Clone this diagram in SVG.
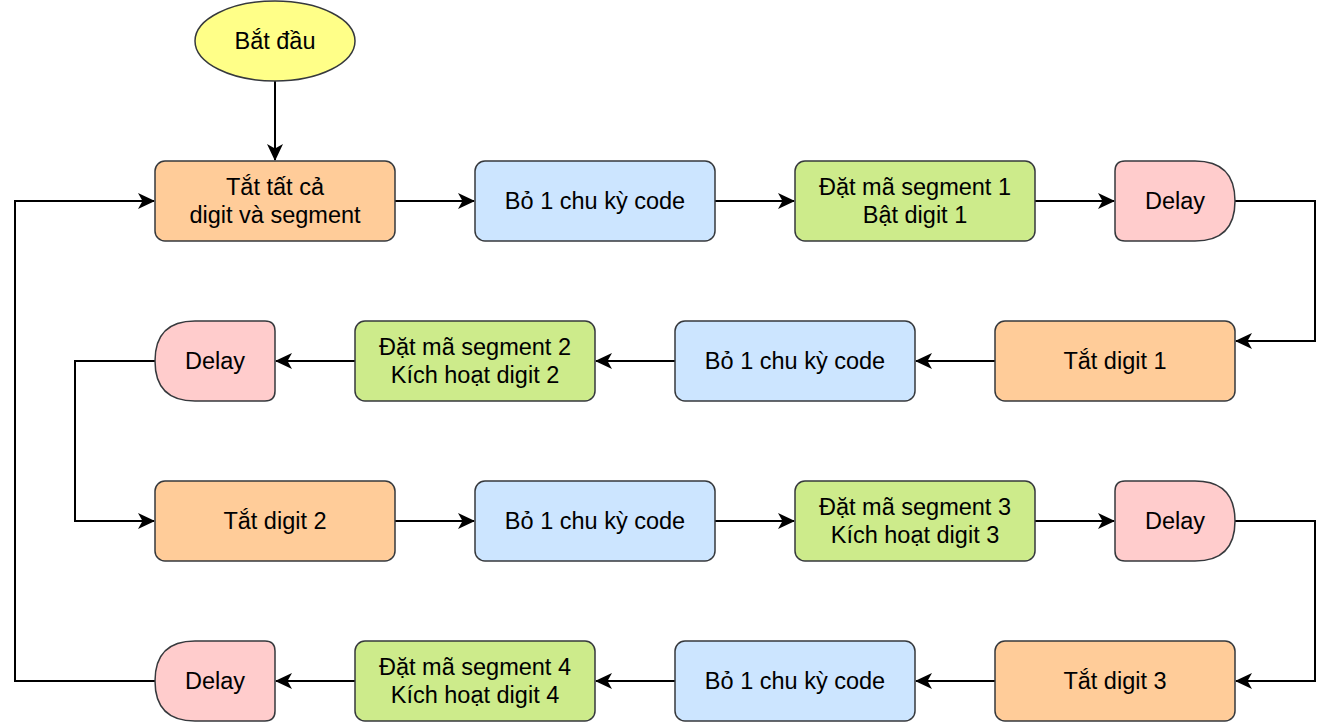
<svg xmlns="http://www.w3.org/2000/svg" width="1332" height="722" viewBox="0 0 1332 722">
<style>
.n{stroke:#36393d;stroke-width:1.5}
.or{fill:#ffcc99}.bl{fill:#cce5ff}.gr{fill:#cdeb8b}.pk{fill:#ffcccc}.ye{fill:#ffff88}
text{font-family:"Liberation Sans",Arial,sans-serif;font-size:23.5px;fill:#000;text-anchor:middle;dominant-baseline:central}
.c{fill:none;stroke:#000;stroke-width:2;marker-end:url(#arr)}
</style>
<defs>
<marker id="arr" viewBox="0 0 17 16" markerWidth="17" markerHeight="16" markerUnits="userSpaceOnUse" refX="16" refY="8" orient="auto">
<path d="M0,0 L17,8 L0,16 L4.5,8 Z" fill="#000"/>
</marker>
</defs>
<rect width="1332" height="722" fill="#fff"/>
<g id="connectors">
<path class="c" d="M275,81 V160"/>
<path class="c" d="M395,201 H474"/>
<path class="c" d="M715,201 H794"/>
<path class="c" d="M1035,201 H1114"/>
<path class="c" d="M1235,201 H1315 V341 H1236"/>
<path class="c" d="M995,361 H916"/>
<path class="c" d="M675,361 H596"/>
<path class="c" d="M355,361 H276"/>
<path class="c" d="M155,361 H75 V521 H154"/>
<path class="c" d="M395,521 H474"/>
<path class="c" d="M715,521 H794"/>
<path class="c" d="M1035,521 H1114"/>
<path class="c" d="M1235,521 H1315 V681 H1236"/>
<path class="c" d="M995,681 H916"/>
<path class="c" d="M675,681 H596"/>
<path class="c" d="M355,681 H276"/>
<path class="c" d="M155,681 H15 V201 H154"/>
</g>
<g id="start"><ellipse class="n ye" cx="275" cy="41" rx="80" ry="40"/><text x="275" y="41">Bắt đầu</text></g>
<g id="r1a"><rect class="n or" x="155" y="161" width="240" height="80" rx="10"/><text x="275" y="187">Tắt tất cả</text><text x="275" y="215">digit và segment</text></g>
<g id="r1b"><rect class="n bl" x="475" y="161" width="240" height="80" rx="10"/><text x="595" y="201">Bỏ 1 chu kỳ code</text></g>
<g id="r1c"><rect class="n gr" x="795" y="161" width="240" height="80" rx="10"/><text x="915" y="187">Đặt mã segment 1</text><text x="915" y="215">Bật digit 1</text></g>
<g id="r1d"><path class="n pk" d="M1125,161 H1195 Q1235,161 1235,201 Q1235,241 1195,241 H1125 Q1115,241 1115,231 V171 Q1115,161 1125,161 Z"/><text x="1175" y="201">Delay</text></g>
<g id="r2a"><rect class="n or" x="995" y="321" width="240" height="80" rx="10"/><text x="1115" y="361">Tắt digit 1</text></g>
<g id="r2b"><rect class="n bl" x="675" y="321" width="240" height="80" rx="10"/><text x="795" y="361">Bỏ 1 chu kỳ code</text></g>
<g id="r2c"><rect class="n gr" x="355" y="321" width="240" height="80" rx="10"/><text x="475" y="347">Đặt mã segment 2</text><text x="475" y="375">Kích hoạt digit 2</text></g>
<g id="r2d"><path class="n pk" d="M265,321 H195 Q155,321 155,361 Q155,401 195,401 H265 Q275,401 275,391 V331 Q275,321 265,321 Z"/><text x="215" y="361">Delay</text></g>
<g id="r3a"><rect class="n or" x="155" y="481" width="240" height="80" rx="10"/><text x="275" y="521">Tắt digit 2</text></g>
<g id="r3b"><rect class="n bl" x="475" y="481" width="240" height="80" rx="10"/><text x="595" y="521">Bỏ 1 chu kỳ code</text></g>
<g id="r3c"><rect class="n gr" x="795" y="481" width="240" height="80" rx="10"/><text x="915" y="507">Đặt mã segment 3</text><text x="915" y="535">Kích hoạt digit 3</text></g>
<g id="r3d"><path class="n pk" d="M1125,481 H1195 Q1235,481 1235,521 Q1235,561 1195,561 H1125 Q1115,561 1115,551 V491 Q1115,481 1125,481 Z"/><text x="1175" y="521">Delay</text></g>
<g id="r4a"><rect class="n or" x="995" y="641" width="240" height="80" rx="10"/><text x="1115" y="681">Tắt digit 3</text></g>
<g id="r4b"><rect class="n bl" x="675" y="641" width="240" height="80" rx="10"/><text x="795" y="681">Bỏ 1 chu kỳ code</text></g>
<g id="r4c"><rect class="n gr" x="355" y="641" width="240" height="80" rx="10"/><text x="475" y="667">Đặt mã segment 4</text><text x="475" y="695">Kích hoạt digit 4</text></g>
<g id="r4d"><path class="n pk" d="M265,641 H195 Q155,641 155,681 Q155,721 195,721 H265 Q275,721 275,711 V651 Q275,641 265,641 Z"/><text x="215" y="681">Delay</text></g>
</svg>
